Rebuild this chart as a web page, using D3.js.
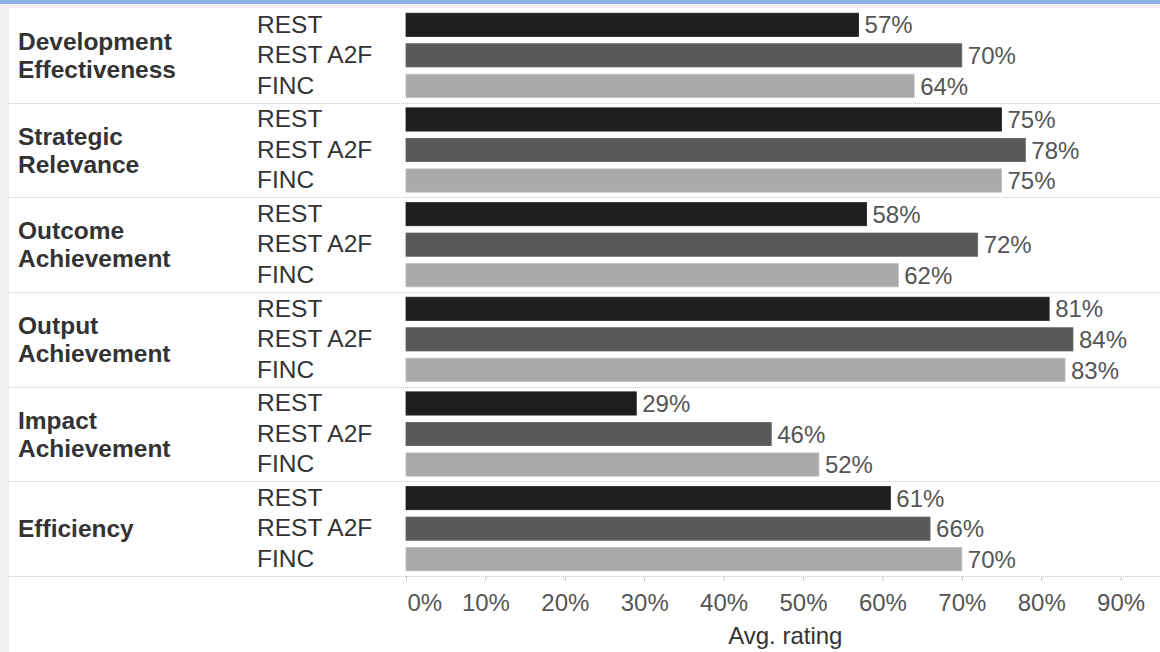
<!DOCTYPE html>
<html>
<head>
<meta charset="utf-8">
<script src="https://cdn.jsdelivr.net/npm/d3@7"></script>
<style>
  html, body { margin: 0; padding: 0; background: #f0f0f0; }
  svg { display: block; font-family: "Liberation Sans", Arial, sans-serif; }
</style>
</head>
<body>
<svg id="chart" width="1160" height="652"></svg>
<script>
const groups = [
  ["Development", "Effectiveness"],
  ["Strategic", "Relevance"],
  ["Outcome", "Achievement"],
  ["Output", "Achievement"],
  ["Impact", "Achievement"],
  ["Efficiency"]
];
const seriesNames = ["REST", "REST A2F", "FINC"];
const restValues    = [57, 75, 58, 81, 29, 61];
const restA2fValues = [70, 78, 72, 84, 46, 66];
const fincValues    = [64, 75, 62, 83, 52, 70];
const tickValues = [0, 10, 20, 30, 40, 50, 60, 70, 80, 90];
const axisTitle = "Avg. rating";

const seriesValues = [restValues, restA2fValues, fincValues];
const colors = ["#1e1e1e", "#595959", "#a9a9a9"];

const svg = d3.select("#chart");
const W = 1160, H = 652;

// background frame
svg.append("rect").attr("x", 0).attr("y", 0).attr("width", W).attr("height", H).attr("fill", "#f0f0f0");
svg.append("rect").attr("x", 0).attr("y", 0).attr("width", W).attr("height", 4).attr("fill", "#8db3e2");
svg.append("rect").attr("x", 9).attr("y", 8).attr("width", W - 9).attr("height", H - 8).attr("fill", "#ffffff");

const plotTop = 8, plotBottom = 576;
const x = d3.scaleLinear().domain([0, 90]).range([406, 406 + 0.9 * 794]);

const gIdx = d3.range(groups.length);
const yGroup = d3.scaleBand().domain(gIdx).range([plotTop, plotBottom]).padding(0);
const yRow = d3.scaleBand().domain(d3.range(seriesNames.length)).range([0, yGroup.bandwidth()]).paddingInner(0.24).paddingOuter(0.17);

// separators
gIdx.forEach(i => {
  const yy = Math.round(yGroup(i) + yGroup.bandwidth()) + 0.5;
  svg.append("line").attr("x1", 9).attr("x2", W).attr("y1", yy).attr("y2", yy)
    .attr("stroke", "#c8c8c8").attr("stroke-width", 1).attr("stroke-dasharray", "1,1");
});

const rowLabelY = (gi, si) => yGroup(gi) + yRow(si) + yRow.bandwidth() / 2;

gIdx.forEach(gi => {
  const g = svg.append("g");
  const lines = groups[gi];
  const cy = yGroup(gi) + yGroup.bandwidth() / 2;
  const lh = 28;
  lines.forEach((ln, k) => {
    g.append("text")
      .attr("x", 18)
      .attr("y", cy + (k - (lines.length - 1) / 2) * lh)
      .attr("dy", "0.36em")
      .attr("font-size", 24.5)
      .attr("font-weight", "bold")
      .attr("fill", "#333")
      .text(ln);
  });
  seriesNames.forEach((s, si) => {
    const v = seriesValues[si][gi];
    const yb = yGroup(gi) + yRow(si);
    g.append("text")
      .attr("x", 257).attr("y", rowLabelY(gi, si) - 1)
      .attr("dy", "0.36em")
      .attr("font-size", 24.5).attr("fill", "#333")
      .text(s);
    g.append("rect")
      .attr("x", x(0)).attr("y", yb)
      .attr("width", x(v) - x(0)).attr("height", yRow.bandwidth())
      .attr("fill", colors[si])
      .attr("stroke", d3.color(colors[si]).brighter(0.3))
      .attr("stroke-width", 0.8);
    g.append("text")
      .attr("x", x(v) + 6).attr("y", rowLabelY(gi, si))
      .attr("dy", "0.36em")
      .attr("font-size", 24).attr("fill", "#555")
      .text(v + "%");
  });
});

// axis
const axisG = svg.append("g").attr("transform", `translate(0,${plotBottom})`);
axisG.call(d3.axisBottom(x).tickValues(tickValues).tickSize(5).tickFormat(d => d + "%"));
axisG.select(".domain").remove();
axisG.selectAll(".tick line").attr("stroke", "#c8c8c8");
axisG.selectAll(".tick text")
  .attr("font-size", 24).attr("fill", "#555")
  .attr("font-family", "Liberation Sans, Arial, sans-serif")
  .attr("y", 18).attr("dy", "0.71em")
  .attr("text-anchor", (d, i) => i === 0 ? "start" : "middle")
  .attr("x", (d, i) => i === 0 ? 1 : 0);

svg.append("text")
  .attr("x", (x(0) + x(90)) / 2 + 22).attr("y", 644)
  .attr("text-anchor", "middle")
  .attr("font-size", 24).attr("fill", "#333")
  .text(axisTitle);
</script>
</body>
</html>
